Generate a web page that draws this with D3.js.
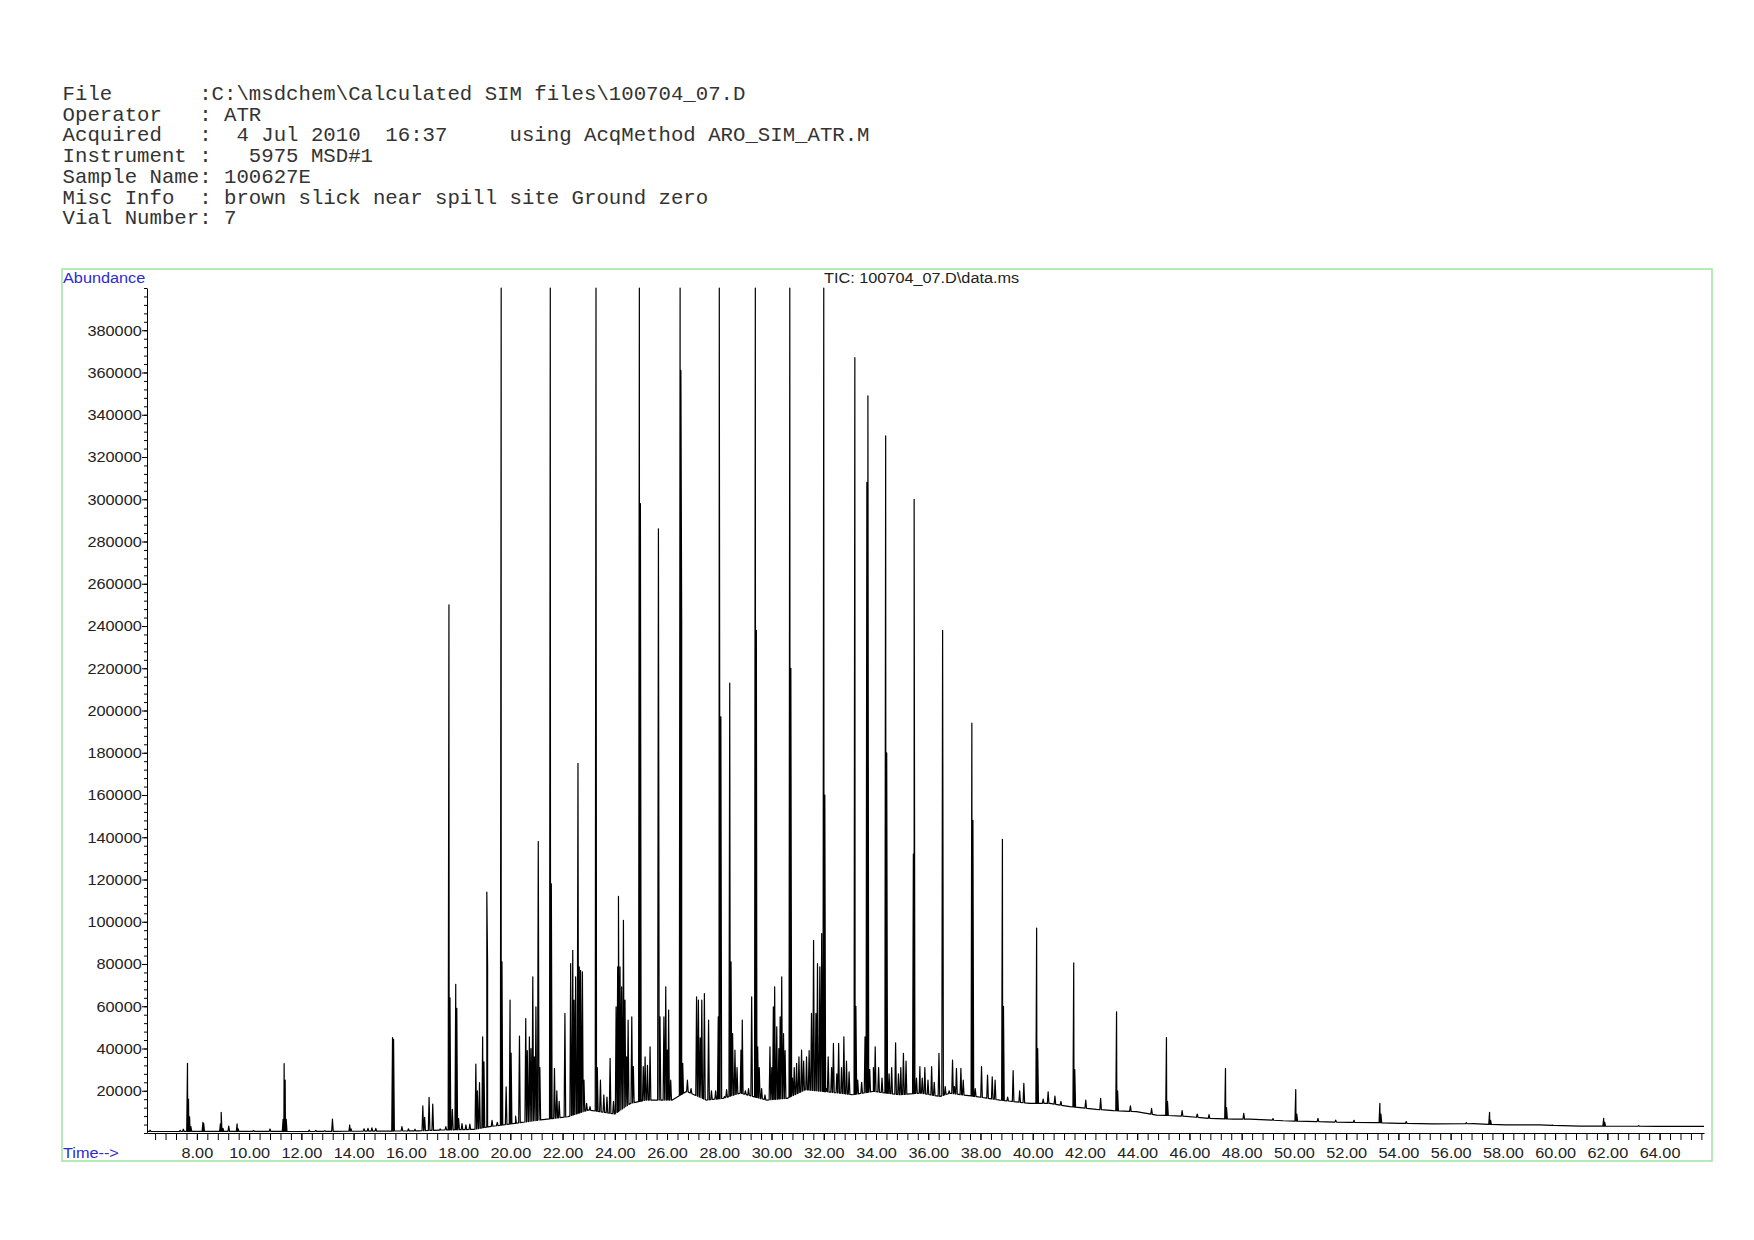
<!DOCTYPE html>
<html>
<head>
<meta charset="utf-8">
<script src="https://cdn.jsdelivr.net/npm/d3@7"></script>
<style>
  body { margin: 0; background: #fff; }
  .hdr { font-family: "Liberation Mono", "DejaVu Sans Mono", monospace; font-size: 20.7px; fill: #333; white-space: pre; }
  .lbl { font-family: "Liberation Sans", Arial, sans-serif; font-size: 15.5px; fill: #222; }
  .blue { fill: #2c2cd6; }
</style>
</head>
<body>
<svg id="chart" width="1754" height="1240"></svg>
<script>
// header block of the printout
const headerLines = [
  "File       :C:\\msdchem\\Calculated SIM files\\100704_07.D",
  "Operator   : ATR",
  "Acquired   :  4 Jul 2010  16:37     using AcqMethod ARO_SIM_ATR.M",
  "Instrument :   5975 MSD#1",
  "Sample Name: 100627E",
  "Misc Info  : brown slick near spill site Ground zero",
  "Vial Number: 7"
]
const traceTitle = "TIC: 100704_07.D\\data.ms"

// tick labels
const xLabelTicks = [8, 10, 12, 14, 16, 18, 20, 22, 24, 26, 28, 30, 32, 34, 36, 38, 40, 42, 44, 46, 48, 50, 52, 54, 56, 58, 60, 62, 64]
const yLabelTicks = [20000, 40000, 60000, 80000, 100000, 120000, 140000, 160000, 180000, 200000, 220000, 240000,
  260000, 280000, 300000, 320000, 340000, 360000, 380000]

// valley floor of the TIC trace: [time (min), abundance]
const baselinePoints = [
  [6.09, 800], [7.0, 700], [9.0, 800], [12.0, 700], [15.0, 900], [16.5, 1000], [17.3, 1400], [18.6, 1700],
  [19.2, 3000], [20.2, 4600], [21.1, 6100], [22.2, 7700], [23.0, 10900], [24.0, 9000], [24.6, 14000],
  [25.2, 15600], [26.2, 15600], [26.75, 19700], [27.5, 15600], [28.15, 16400], [28.8, 18900], [29.8, 15600],
  [30.6, 16400], [31.3, 20500], [32.6, 18900], [33.1, 18100], [33.9, 19700], [34.9, 18100], [35.7, 18900],
  [36.45, 17300], [36.83, 18800], [37.85, 17200], [38.74, 15600], [39.89, 14000], [40.66, 14000],
  [41.42, 12500], [42.44, 11200], [43.08, 10600], [43.97, 10100], [44.74, 8500], [45.76, 8000], [46.78, 6900],
  [47.67, 6600], [48.31, 6600], [49.59, 5800], [50.86, 5400], [52.14, 5000], [53.16, 4900], [54.05, 4600],
  [55.33, 4300], [56.86, 4400], [58.13, 3800], [59.4, 3800], [60.94, 3300], [63.9, 3150], [65.7, 3150]
]

// peaks: [time (min), apex abundance]; 400000 = off scale
const peaks = [
  [6.21, 1300], [7.36, 1200], [7.48, 1800],
  [7.64, 33000], [7.68, 16000], [7.72, 7700], [7.77, 3000],
  [8.23, 5000], [8.26, 4600], [8.90, 4300], [8.93, 9800], [9.0, 2200],
  [9.22, 3300], [9.54, 4300], [9.58, 2000], [10.17, 1200], [10.80, 1900],
  [11.3, 6500], [11.34, 32800], [11.38, 25000], [11.42, 6500],
  [12.3, 1400], [12.55, 1200], [12.9, 1100], [13.19, 6600], [13.85, 3800], [13.9, 2000],
  [14.4, 2000], [14.55, 2200], [14.7, 2400], [14.85, 2200],
  [15.49, 45200], [15.53, 44300], [15.85, 3000], [16.1, 2000], [16.35, 1800],
  [16.65, 12800], [16.72, 7400], [16.89, 16900], [17.03, 13700], [17.31, 2000], [17.53, 3000],
  [17.65, 250000], [17.69, 64000], [17.78, 11200], [17.91, 70400], [17.95, 59000], [18.02, 6900],
  [18.15, 4500], [18.3, 3800], [18.45, 4200],
  [18.68, 32600], [18.74, 20000], [18.82, 23800], [18.94, 45500], [18.99, 33700],
  [19.1, 114000], [19.13, 78600], [19.3, 6000], [19.5, 5000],
  [19.65, 400000], [19.68, 81000], [19.84, 21900], [19.99, 62900], [20.03, 37800],
  [20.2, 8000], [20.35, 45900], [20.59, 54200], [20.65, 39000], [20.73, 45500], [20.79, 40000],
  [20.86, 73900], [20.92, 36000], [20.98, 59700], [21.07, 138000], [21.13, 31000],
  [21.53, 400000], [21.57, 118000], [21.69, 30600], [21.78, 20000], [21.87, 15000],
  [22.09, 56600], [22.31, 80200], [22.39, 86500], [22.44, 62900], [22.5, 73900],
  [22.59, 175000], [22.64, 78600], [22.69, 77000], [22.76, 76300], [22.82, 25000],
  [22.92, 14000], [23.05, 12500], [23.28, 400000], [23.33, 31000],
  [23.45, 25000], [23.58, 18000], [23.7, 17000], [23.82, 35300], [23.95, 15000],
  [24.05, 59700], [24.11, 78600], [24.14, 112000], [24.2, 78600], [24.26, 69200], [24.33, 100700],
  [24.39, 62900], [24.45, 36100], [24.51, 53400], [24.65, 55000], [24.71, 31400],
  [24.94, 400000], [24.98, 298000], [25.09, 31400], [25.16, 36000], [25.25, 32000], [25.35, 40800],
  [25.67, 286000], [25.73, 55000], [25.81, 15600], [25.88, 55000], [25.95, 69200], [26.01, 39200],
  [26.06, 58200], [26.14, 25000],
  [26.5, 400000], [26.53, 361000], [26.56, 242000], [26.6, 33000], [26.78, 25000], [26.92, 21000],
  [27.13, 64500], [27.2, 62900], [27.27, 45000], [27.33, 62900], [27.43, 66000], [27.59, 53400],
  [27.7, 20000], [27.86, 20000], [27.96, 55000], [28.0, 400000], [28.06, 197000],
  [28.2, 17300], [28.28, 20500], [28.4, 213000], [28.45, 81000], [28.51, 47100], [28.6, 39200],
  [28.68, 31000], [28.83, 39200], [28.88, 53400], [29.0, 20000], [29.12, 21000],
  [29.24, 64500], [29.38, 400000], [29.42, 238000], [29.47, 40800], [29.53, 31000], [29.62, 21000],
  [29.75, 18000], [29.94, 40800], [30.01, 31000], [30.07, 59700], [30.12, 69200], [30.2, 50300],
  [30.28, 40000], [30.33, 55000], [30.39, 73900], [30.46, 47000], [30.52, 39000],
  [30.7, 400000], [30.74, 220000], [30.8, 26000], [30.87, 31000], [30.96, 33000], [31.05, 36000],
  [31.15, 39200], [31.23, 34000], [31.34, 36000], [31.44, 39000],
  [31.53, 56600], [31.61, 91200], [31.7, 56600], [31.76, 80200], [31.85, 78600], [31.92, 94400],
  [32.0, 400000], [32.04, 160000], [32.11, 21000], [32.17, 36100], [32.3, 31000], [32.37, 42400],
  [32.5, 28000], [32.57, 42400], [32.68, 31000], [32.77, 45500], [32.87, 34000], [32.97, 29000],
  [33.19, 367000], [33.23, 60000], [33.3, 25000], [33.45, 24000], [33.58, 45500],
  [33.65, 308000], [33.69, 349000], [33.76, 30000], [33.9, 31000], [33.97, 40800], [34.1, 31000],
  [34.23, 26000], [34.37, 330000], [34.41, 180000], [34.5, 28000], [34.6, 31000], [34.75, 42700],
  [34.86, 28000], [34.95, 31000], [35.05, 37700], [35.15, 34000],
  [35.43, 132000], [35.46, 300000], [35.55, 26000], [35.68, 31400], [35.77, 26000], [35.87, 31000],
  [35.99, 25000], [36.13, 31400], [36.23, 24000], [36.41, 37700], [36.55, 238000],
  [36.65, 22000], [36.8, 20000], [36.93, 34500], [37.0, 22000], [37.08, 30600], [37.25, 30600], [37.34, 25000],
  [37.67, 194000], [37.71, 148000], [37.8, 21000], [38.04, 31400], [38.27, 27400], [38.45, 26600], [38.56, 25000],
  [38.84, 139000], [38.88, 60000], [39.04, 17000], [39.25, 29500], [39.5, 20000], [39.66, 23500],
  [40.15, 97000], [40.19, 40000], [40.4, 16000], [40.59, 19500], [40.85, 17500], [41.08, 15000],
  [41.57, 80500], [41.61, 30000], [42.03, 15600], [42.6, 16400],
  [43.21, 57400], [43.25, 20000], [43.74, 12800], [44.55, 11700],
  [45.12, 45200], [45.16, 15000], [45.72, 10600], [46.3, 9000], [46.75, 8700],
  [47.38, 30600], [47.42, 12000], [48.08, 9300], [49.2, 6800],
  [50.07, 20600], [50.11, 9000], [50.92, 6900], [51.6, 6100], [52.3, 6000],
  [53.29, 14000], [53.33, 9000], [54.3, 5400], [56.6, 4900],
  [57.49, 9770], [57.53, 6000], [59.9, 3700], [61.86, 6900], [61.9, 5000], [63.2, 3500]
]

const svg = d3.select("#chart")
const x = d3.scaleLinear().domain([6.09, 65.7]).range([147, 1704])
const y = d3.scaleLinear().domain([0, 400000]).range([1133, 288])

// header text
svg.selectAll("text.hdr")
  .data(headerLines)
  .join("text")
  .attr("class", "hdr")
  .attr("xml:space", "preserve")
  .attr("x", 62.6)
  .attr("y", (d, i) => 100 + i * 20.7)
  .text(d => d)

// green frame
svg.append("rect")
  .attr("x", 62).attr("y", 269)
  .attr("width", 1650).attr("height", 892)
  .attr("fill", "none")
  .attr("stroke", "#9fe39f")
  .attr("stroke-width", 1.5)

function stretched(sel, px, py) {
  return sel.attr("transform", `translate(${px},${py}) scale(1.05,1)`)
}
stretched(svg.append("text").attr("class", "lbl blue").text("Abundance"), 63, 283)
stretched(svg.append("text").attr("class", "lbl blue").text("Time-->"), 63, 1158)
stretched(svg.append("text").attr("class", "lbl").text(traceTitle), 824, 283)

// axes: minor ticks + labelled ticks
const yMinor = d3.range(0, 400001, 4000)
svg.append("g")
  .attr("transform", `translate(${x.range()[0]},0)`)
  .call(d3.axisLeft(y).tickValues(yMinor).tickSize(3).tickSizeOuter(0).tickFormat(""))
svg.append("g")
  .attr("class", "ymaj")
  .attr("transform", `translate(${x.range()[0]},0)`)
  .call(d3.axisLeft(y).tickValues(yLabelTicks).tickSize(5).tickPadding(0).tickFormat(d3.format("d")))
  .call(g => g.select(".domain").remove())

const xMinor = d3.range(6.4, 65.7, 0.4)
svg.append("g")
  .attr("transform", `translate(0,${y(0)})`)
  .call(d3.axisBottom(x).tickValues(xMinor).tickSize(7).tickSizeOuter(0).tickFormat(""))
svg.append("g")
  .attr("class", "xmaj")
  .attr("transform", `translate(0,${y(0)})`)
  .call(d3.axisBottom(x).tickValues(xLabelTicks).tickSize(7).tickPadding(7).tickFormat(d3.format(".2f")))
  .call(g => g.select(".domain").remove())

svg.selectAll(".ymaj text, .xmaj text")
  .attr("class", "lbl")
  .attr("transform", "scale(1.05,1)")
svg.selectAll(".ymaj, .xmaj").attr("font-size", null).attr("font-family", null)

// TIC trace: valley floor plus narrow peaks
const floor = d3.scaleLinear()
  .domain(baselinePoints.map(d => d[0]))
  .range(baselinePoints.map(d => d[1]))
  .clamp(true)
const halfWidth = 0.03
let pts = baselinePoints.slice()
peaks.forEach(([t, h]) => {
  pts.push([t - halfWidth, floor(t - halfWidth)], [t, h], [t + halfWidth, floor(t + halfWidth)])
})
pts.sort((a, b) => a[0] - b[0])

svg.append("clipPath").attr("id", "plotclip")
  .append("rect").attr("x", 147).attr("y", 287).attr("width", 1560).attr("height", 848)

svg.append("path")
  .datum(pts)
  .attr("clip-path", "url(#plotclip)")
  .attr("fill", "none")
  .attr("stroke", "#000")
  .attr("stroke-width", 1.2)
  .attr("stroke-linejoin", "round")
  .attr("d", d3.line().x(d => x(d[0])).y(d => y(d[1])))
</script>
</body>
</html>
